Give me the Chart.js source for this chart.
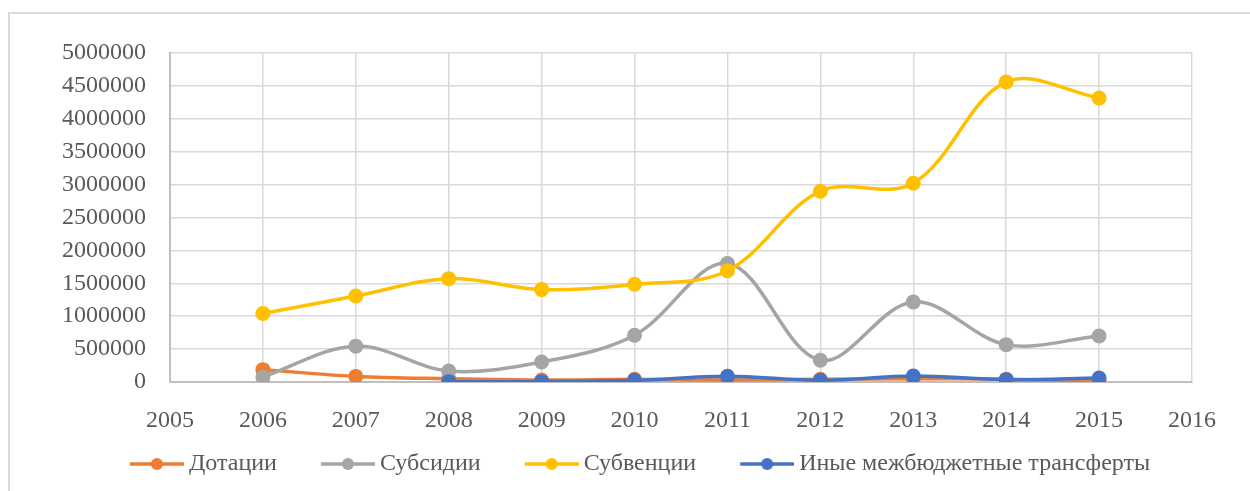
<!DOCTYPE html>
<html>
<head>
<meta charset="utf-8">
<script src="https://cdn.jsdelivr.net/npm/chart.js@4"></script>
<style>
  html, body { margin: 0; padding: 0; background: #fff; overflow: hidden; }
  #frame { position: absolute; left: 8px; top: 12px; width: 1300px; height: 600px; border: 2px solid #d9d9d9; }
  #wrap { position: absolute; left: 0; top: 0; width: 1250px; height: 491px; }
</style>
</head>
<body>
<div id="frame"></div>
<div id="wrap"><canvas id="chart" width="1250" height="491"></canvas></div>
<script>
"use strict";

// years on the x axis, values per series (null = no point)
var years      = [2006, 2007, 2008, 2009, 2010, 2011, 2012, 2013, 2014, 2015];
var dotacii    = [188000, 85000, 50000, 30000, 40000, 30000, 40000, 50000, 40000, 10000];
var subsidii   = [76000, 545000, 167000, 304000, 710000, 1800000, 330000, 1216000, 568000, 700000];
var subvencii  = [1040000, 1307000, 1571000, 1404000, 1485000, 1690000, 2900000, 3020000, 4560000, 4316000];
var inye       = [null, null, 5000, 5000, 25000, 87000, 26000, 90000, 36000, 60000];

var seriesNames  = ["Дотации", "Субсидии", "Субвенции", "Иные межбюджетные трансферты"];
var seriesColors = ["#ED7D31", "#A5A5A5", "#FFC000", "#4472C4"];

var FONT = "'Liberation Serif', 'Times New Roman', serif";
var TEXT = "#595959";

function toPoints(vals)
{
  var out = [];
  for (var i = 0; i < years.length; i++) {
    out.push({x: years[i], y: vals[i]});
  }
  return out;
}

// little line+dot image for the legend, left part kept blank for spacing
function legendMark(color)
{
  var c = document.createElement("canvas");
  c.width = 95;
  c.height = 16;
  var g = c.getContext("2d");
  g.strokeStyle = color;
  g.lineWidth = 3.3;
  g.beginPath();
  g.moveTo(41, 8);
  g.lineTo(95, 8);
  g.stroke();
  g.fillStyle = color;
  g.beginPath();
  g.arc(68, 8, 6, 0, Math.PI * 2);
  g.fill();
  return c;
}

var allValues = [dotacii, subsidii, subvencii, inye];
var datasets = [];
for (var s = 0; s < 4; s++) {
  datasets.push({
    label: seriesNames[s],
    data: toPoints(allValues[s]),
    borderColor: seriesColors[s],
    backgroundColor: seriesColors[s],
    borderWidth: 3.5,
    pointRadius: 7.5,
    pointHoverRadius: 7.5,
    pointBorderWidth: 0,
    tension: 0.35,
    spanGaps: false,
    order: 3 - s   // later series drawn on top, like Excel
  });
}

var marks = seriesColors.map(legendMark);

new Chart(document.getElementById("chart").getContext("2d"), {
  type: "line",
  data: { datasets: datasets },
  options: {
    responsive: false,
    animation: false,
    layout: { padding: { left: 54, right: 58, top: 53, bottom: 5 } },
    plugins: {
      tooltip: { enabled: false },
      legend: {
        position: "bottom",
        labels: {
          font: { family: FONT, size: 24 },
          color: TEXT,
          usePointStyle: true,
          pointStyleWidth: 81,
          padding: 10,
          sort: function(a, b) { return a.datasetIndex - b.datasetIndex; },
          generateLabels: function(chart) {
            var items = Chart.defaults.plugins.legend.labels.generateLabels(chart);
            items.forEach(function(it) { it.pointStyle = marks[it.datasetIndex]; });
            return items;
          }
        }
      }
    },
    scales: {
      x: {
        type: "linear",
        min: 2005,
        max: 2016,
        ticks: {
          stepSize: 1,
          padding: 24,
          color: TEXT,
          font: { family: FONT, size: 24 },
          callback: function(v) { return String(v); }
        },
        grid: { color: "#d9d9d9", lineWidth: 1.5, drawTicks: false },
        border: { color: "#bfbfbf", width: 2 },
        afterFit: function(scale) { scale.height = 60; }
      },
      y: {
        min: 0,
        max: 5000000,
        ticks: {
          stepSize: 500000,
          padding: 24,
          autoSkip: false,
          color: TEXT,
          font: { family: FONT, size: 24 },
          callback: function(v) { return String(v); }
        },
        grid: { color: "#d9d9d9", lineWidth: 1.5, drawTicks: false },
        border: { color: "#bfbfbf", width: 2 },
        afterFit: function(scale) { scale.width = 116; }
      }
    }
  }
});
</script>
</body>
</html>
